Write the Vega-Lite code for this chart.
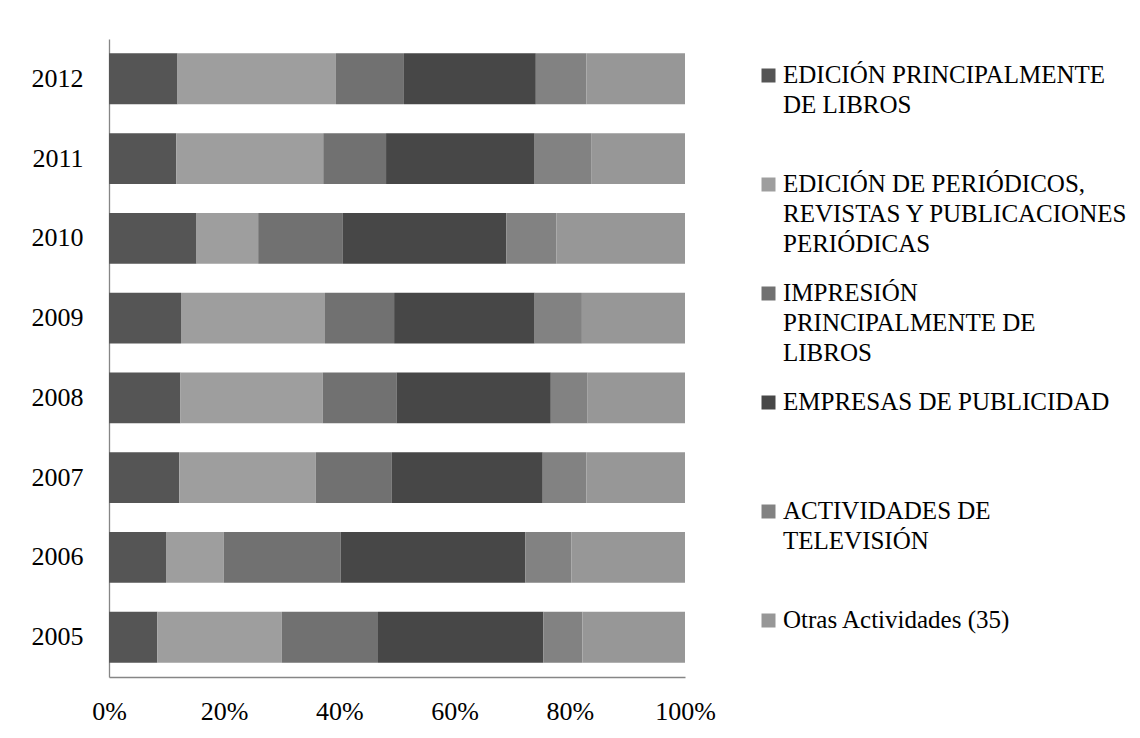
{
  "$schema": "https://vega.github.io/schema/vega-lite/v6.json",
  "width": 576,
  "height": 638,
  "padding": {"left": 9, "top": 39, "right": 0, "bottom": 0},
  "background": "white",
  "config": {
    "view": {"stroke": null},
    "font": "Liberation Serif"
  },
  "data": {
    "values": [
      {"anio": "2012", "orden": 1, "actividad": "EDICIÓN PRINCIPALMENTE DE LIBROS", "pct": 11.9},
      {"anio": "2012", "orden": 2, "actividad": "EDICIÓN DE PERIÓDICOS, REVISTAS Y PUBLICACIONES PERIÓDICAS", "pct": 27.5},
      {"anio": "2012", "orden": 3, "actividad": "IMPRESIÓN PRINCIPALMENTE DE LIBROS", "pct": 11.8},
      {"anio": "2012", "orden": 4, "actividad": "EMPRESAS DE PUBLICIDAD", "pct": 22.9},
      {"anio": "2012", "orden": 5, "actividad": "ACTIVIDADES DE TELEVISIÓN", "pct": 8.8},
      {"anio": "2012", "orden": 6, "actividad": "Otras Actividades (35)", "pct": 17.1},
      {"anio": "2011", "orden": 1, "actividad": "EDICIÓN PRINCIPALMENTE DE LIBROS", "pct": 11.7},
      {"anio": "2011", "orden": 2, "actividad": "EDICIÓN DE PERIÓDICOS, REVISTAS Y PUBLICACIONES PERIÓDICAS", "pct": 25.5},
      {"anio": "2011", "orden": 3, "actividad": "IMPRESIÓN PRINCIPALMENTE DE LIBROS", "pct": 10.9},
      {"anio": "2011", "orden": 4, "actividad": "EMPRESAS DE PUBLICIDAD", "pct": 25.8},
      {"anio": "2011", "orden": 5, "actividad": "ACTIVIDADES DE TELEVISIÓN", "pct": 9.9},
      {"anio": "2011", "orden": 6, "actividad": "Otras Actividades (35)", "pct": 16.2},
      {"anio": "2010", "orden": 1, "actividad": "EDICIÓN PRINCIPALMENTE DE LIBROS", "pct": 15.2},
      {"anio": "2010", "orden": 2, "actividad": "EDICIÓN DE PERIÓDICOS, REVISTAS Y PUBLICACIONES PERIÓDICAS", "pct": 10.7},
      {"anio": "2010", "orden": 3, "actividad": "IMPRESIÓN PRINCIPALMENTE DE LIBROS", "pct": 14.7},
      {"anio": "2010", "orden": 4, "actividad": "EMPRESAS DE PUBLICIDAD", "pct": 28.4},
      {"anio": "2010", "orden": 5, "actividad": "ACTIVIDADES DE TELEVISIÓN", "pct": 8.7},
      {"anio": "2010", "orden": 6, "actividad": "Otras Actividades (35)", "pct": 22.3},
      {"anio": "2009", "orden": 1, "actividad": "EDICIÓN PRINCIPALMENTE DE LIBROS", "pct": 12.5},
      {"anio": "2009", "orden": 2, "actividad": "EDICIÓN DE PERIÓDICOS, REVISTAS Y PUBLICACIONES PERIÓDICAS", "pct": 25.0},
      {"anio": "2009", "orden": 3, "actividad": "IMPRESIÓN PRINCIPALMENTE DE LIBROS", "pct": 12.0},
      {"anio": "2009", "orden": 4, "actividad": "EMPRESAS DE PUBLICIDAD", "pct": 24.4},
      {"anio": "2009", "orden": 5, "actividad": "ACTIVIDADES DE TELEVISIÓN", "pct": 8.2},
      {"anio": "2009", "orden": 6, "actividad": "Otras Actividades (35)", "pct": 17.9},
      {"anio": "2008", "orden": 1, "actividad": "EDICIÓN PRINCIPALMENTE DE LIBROS", "pct": 12.4},
      {"anio": "2008", "orden": 2, "actividad": "EDICIÓN DE PERIÓDICOS, REVISTAS Y PUBLICACIONES PERIÓDICAS", "pct": 24.7},
      {"anio": "2008", "orden": 3, "actividad": "IMPRESIÓN PRINCIPALMENTE DE LIBROS", "pct": 12.8},
      {"anio": "2008", "orden": 4, "actividad": "EMPRESAS DE PUBLICIDAD", "pct": 26.8},
      {"anio": "2008", "orden": 5, "actividad": "ACTIVIDADES DE TELEVISIÓN", "pct": 6.4},
      {"anio": "2008", "orden": 6, "actividad": "Otras Actividades (35)", "pct": 16.9},
      {"anio": "2007", "orden": 1, "actividad": "EDICIÓN PRINCIPALMENTE DE LIBROS", "pct": 12.2},
      {"anio": "2007", "orden": 2, "actividad": "EDICIÓN DE PERIÓDICOS, REVISTAS Y PUBLICACIONES PERIÓDICAS", "pct": 23.7},
      {"anio": "2007", "orden": 3, "actividad": "IMPRESIÓN PRINCIPALMENTE DE LIBROS", "pct": 13.2},
      {"anio": "2007", "orden": 4, "actividad": "EMPRESAS DE PUBLICIDAD", "pct": 26.2},
      {"anio": "2007", "orden": 5, "actividad": "ACTIVIDADES DE TELEVISIÓN", "pct": 7.6},
      {"anio": "2007", "orden": 6, "actividad": "Otras Actividades (35)", "pct": 17.1},
      {"anio": "2006", "orden": 1, "actividad": "EDICIÓN PRINCIPALMENTE DE LIBROS", "pct": 9.9},
      {"anio": "2006", "orden": 2, "actividad": "EDICIÓN DE PERIÓDICOS, REVISTAS Y PUBLICACIONES PERIÓDICAS", "pct": 10.0},
      {"anio": "2006", "orden": 3, "actividad": "IMPRESIÓN PRINCIPALMENTE DE LIBROS", "pct": 20.3},
      {"anio": "2006", "orden": 4, "actividad": "EMPRESAS DE PUBLICIDAD", "pct": 32.1},
      {"anio": "2006", "orden": 5, "actividad": "ACTIVIDADES DE TELEVISIÓN", "pct": 8.0},
      {"anio": "2006", "orden": 6, "actividad": "Otras Actividades (35)", "pct": 19.7},
      {"anio": "2005", "orden": 1, "actividad": "EDICIÓN PRINCIPALMENTE DE LIBROS", "pct": 8.4},
      {"anio": "2005", "orden": 2, "actividad": "EDICIÓN DE PERIÓDICOS, REVISTAS Y PUBLICACIONES PERIÓDICAS", "pct": 21.6},
      {"anio": "2005", "orden": 3, "actividad": "IMPRESIÓN PRINCIPALMENTE DE LIBROS", "pct": 16.7},
      {"anio": "2005", "orden": 4, "actividad": "EMPRESAS DE PUBLICIDAD", "pct": 28.7},
      {"anio": "2005", "orden": 5, "actividad": "ACTIVIDADES DE TELEVISIÓN", "pct": 6.8},
      {"anio": "2005", "orden": 6, "actividad": "Otras Actividades (35)", "pct": 17.8}
    ]
  },
  "mark": {"type": "bar"},
  "encoding": {
    "x": {
      "field": "pct",
      "type": "quantitative",
      "stack": "normalize",
      "scale": {"nice": false},
      "axis": {
        "title": null,
        "format": ".0%",
        "values": [0, 0.2, 0.4, 0.6, 0.8, 1],
        "grid": false,
        "ticks": false,
        "domainColor": "#868686",
        "domainWidth": 1.3,
        "labelFont": "Liberation Serif",
        "labelFontSize": 26,
        "labelColor": "#000000",
        "labelPadding": 21,
        "labelFlush": false,
        "labelOverlap": false
      }
    },
    "y": {
      "field": "anio",
      "type": "ordinal",
      "sort": "descending",
      "scale": {"paddingInner": 0.3625, "paddingOuter": 0.18},
      "axis": {
        "title": null,
        "ticks": false,
        "domainColor": "#868686",
        "domainWidth": 1.3,
        "labelFont": "Liberation Serif",
        "labelFontSize": 26,
        "labelColor": "#000000",
        "labelPadding": 26,
        "minExtent": 100,
        "maxExtent": 100
      }
    },
    "order": {"field": "orden", "type": "quantitative", "sort": "ascending"},
    "color": {
      "field": "actividad",
      "type": "nominal",
      "sort": [
        "EDICIÓN PRINCIPALMENTE DE LIBROS",
        "EDICIÓN DE PERIÓDICOS, REVISTAS Y PUBLICACIONES PERIÓDICAS",
        "IMPRESIÓN PRINCIPALMENTE DE LIBROS",
        "EMPRESAS DE PUBLICIDAD",
        "ACTIVIDADES DE TELEVISIÓN",
        "Otras Actividades (35)"
      ],
      "scale": {
        "domain": [
          "EDICIÓN PRINCIPALMENTE DE LIBROS",
          "EDICIÓN DE PERIÓDICOS, REVISTAS Y PUBLICACIONES PERIÓDICAS",
          "IMPRESIÓN PRINCIPALMENTE DE LIBROS",
          "EMPRESAS DE PUBLICIDAD",
          "ACTIVIDADES DE TELEVISIÓN",
          "Otras Actividades (35)"
        ],
        "range": ["#555555", "#9e9e9e", "#717171", "#474747", "#828282", "#979797"]
      },
      "legend": {
        "title": null,
        "orient": "right",
        "offset": 47,
        "padding": 24,
        "symbolType": "square",
        "symbolSize": 196,
        "symbolStrokeWidth": 0,
        "labelFont": "Liberation Serif",
        "labelFontSize": 25,
        "labelColor": "#000000",
        "labelLimit": 420,
        "labelOffset": 2,
        "rowPadding": 23,
        "gridAlign": "all",
        "labelBaseline": "top",
        "labelExpr": "datum.label == 'EDICIÓN PRINCIPALMENTE DE LIBROS' ? ['EDICIÓN PRINCIPALMENTE', 'DE LIBROS'] : datum.label == 'EDICIÓN DE PERIÓDICOS, REVISTAS Y PUBLICACIONES PERIÓDICAS' ? ['EDICIÓN DE PERIÓDICOS,', 'REVISTAS Y PUBLICACIONES', 'PERIÓDICAS'] : datum.label == 'IMPRESIÓN PRINCIPALMENTE DE LIBROS' ? ['IMPRESIÓN', 'PRINCIPALMENTE DE', 'LIBROS'] : datum.label == 'ACTIVIDADES DE TELEVISIÓN' ? ['ACTIVIDADES DE', 'TELEVISIÓN'] : datum.label",
        "encode": {
          "labels": {"update": {"lineHeight": {"value": 30}, "dy": {"value": -13}}}
        }
      }
    }
  }
}
